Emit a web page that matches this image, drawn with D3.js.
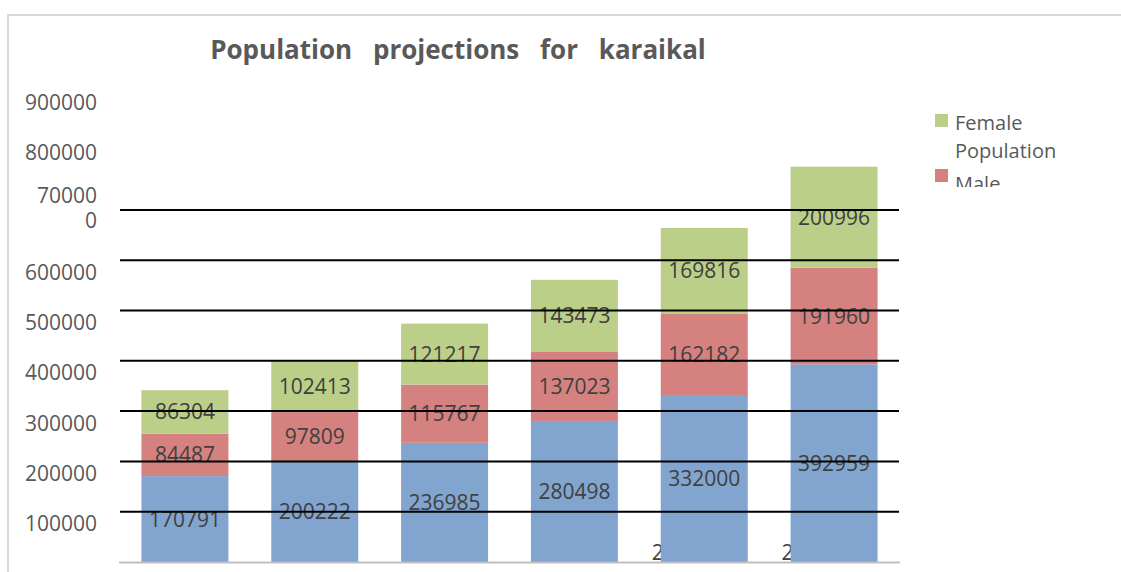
<!DOCTYPE html>
<html>
<head>
<meta charset="utf-8">
<script src="https://cdnjs.cloudflare.com/ajax/libs/d3/7.8.5/d3.min.js"></script>
<style>
  body { margin: 0; background: #fff; }
  text { font-family: "Open Sans", sans-serif; }
</style>
</head>
<body>
<div id="chart"></div>
<script>
var years = ["2001", "2011", "2021", "2031", "2041", "2051"];
var total = [170791, 200222, 236985, 280498, 332000, 392959];
var male = [84487, 97809, 115767, 137023, 162182, 191960];
var female = [86304, 102413, 121217, 143473, 169816, 200996];
var ticks = [100000, 200000, 300000, 400000, 500000, 600000, 700000, 800000, 900000];
var gridTicks = [100000, 200000, 300000, 400000, 500000, 600000, 700000];

var w = 1121,
    h = 572;

var svg = d3.select("#chart")
  .append("svg")
  .attr("width", w)
  .attr("height", h);

// outer frame (only top and left edges show)
svg.append("path")
  .attr("d", "M8,572V15H1121")
  .attr("fill", "none")
  .attr("stroke", "#d9d9d9")
  .attr("stroke-width", 2);

var x = d3.scaleBand()
  .domain(years)
  .range([120, 899])
  .paddingInner(0.33)
  .paddingOuter(0.165);

var y = d3.scaleLinear()
  .domain([0, 900000])
  .range([562, 109.3]);

var series = [
  {name: "Total Population", values: total, color: "#81a5cf"},
  {name: "Male Population", values: male, color: "#d4817f"},
  {name: "Female Population", values: female, color: "#bbcf89"}
];

// stack the segments
var stacked = [];
years.forEach(function(yr, i) {
  var base = 0;
  series.forEach(function(s) {
    stacked.push({year: yr, i: i, y0: base, y1: base + s.values[i], v: s.values[i], color: s.color});
    base += s.values[i];
  });
});

// category labels sit behind the bars; only the last two peek out
svg.selectAll(".cat")
  .data(years.filter(function(d, i) { return i >= 4; }))
  .enter()
  .append("text")
  .attr("class", "cat")
  .attr("x", function(d) { return x(d) - 9; })
  .attr("y", 560)
  .attr("font-size", "21px")
  .attr("fill", "#404040")
  .text(function(d) { return d; });

svg.selectAll(".bar")
  .data(stacked)
  .enter()
  .append("rect")
  .attr("class", "bar")
  .attr("x", function(d) { return x(d.year); })
  .attr("y", function(d) { return y(d.y1); })
  .attr("width", x.bandwidth())
  .attr("height", function(d) { return y(d.y0) - y(d.y1); })
  .attr("fill", function(d) { return d.color; });

// value labels
svg.selectAll(".val")
  .data(stacked)
  .enter()
  .append("text")
  .attr("class", "val")
  .attr("x", function(d) { return x(d.year) + x.bandwidth() / 2; })
  .attr("y", function(d) { return (y(d.y0) + y(d.y1)) / 2; })
  .attr("dy", "0.36em")
  .attr("text-anchor", "middle")
  .attr("font-size", "21px")
  .attr("fill", "#404040")
  .text(function(d) { return d.v; });

// x axis line
svg.append("line")
  .attr("x1", 119).attr("x2", 900)
  .attr("y1", y(0) + 0.5).attr("y2", y(0) + 0.5)
  .attr("stroke", "#bfbfbf")
  .attr("stroke-width", 2);

// gridlines drawn over the bars
svg.selectAll(".grid")
  .data(gridTicks)
  .enter()
  .append("line")
  .attr("class", "grid")
  .attr("x1", 120).attr("x2", 899)
  .attr("y1", function(d) { return y(d); })
  .attr("y2", function(d) { return y(d); })
  .attr("stroke", "#000")
  .attr("stroke-width", 2);

// y labels (offset from their gridlines as in the original)
var yl = svg.selectAll(".ylab")
  .data(ticks)
  .enter()
  .append("text")
  .attr("class", "ylab")
  .attr("x", 97)
  .attr("text-anchor", "end")
  .attr("font-size", "21px")
  .attr("fill", "#595959");

yl.filter(function(d) { return d !== 700000; })
  .attr("y", function(d) {
    if (d >= 800000) return y(d) - 7;
    return y(d) + 12;
  })
  .attr("dy", "0.36em")
  .text(function(d) { return d; });

// 700000 wraps onto two lines in the original
var wrapped = yl.filter(function(d) { return d === 700000; });
wrapped.append("tspan").attr("x", 97).attr("y", y(700000) - 14.5).attr("dy", "0.36em").text("70000");
wrapped.append("tspan").attr("x", 97).attr("y", y(700000) + 10.5).attr("dy", "0.36em").text("0");

// title
svg.append("text")
  .attr("x", 458)
  .attr("y", 59)
  .attr("text-anchor", "middle")
  .attr("font-size", "26px")
  .attr("font-weight", "bold")
  .attr("fill", "#595959")
  .attr("word-spacing", "14px")
  .text("Population projections for karaikal");

// legend, clipped like the original box
svg.append("clipPath")
  .attr("id", "legclip")
  .append("rect")
  .attr("x", 920).attr("y", 100)
  .attr("width", 200).attr("height", 87);

var legend = svg.append("g").attr("clip-path", "url(#legclip)");
var legItems = [series[2], series[1], series[0]];

var lg = legend.selectAll(".leg")
  .data(legItems)
  .enter()
  .append("g")
  .attr("class", "leg")
  .attr("transform", function(d, i) { return "translate(935," + (114 + i * 55) + ")"; });

lg.append("rect")
  .attr("width", 13).attr("height", 13)
  .attr("fill", function(d) { return d.color; });

lg.each(function(d, i) {
  var words = d.name.split(" ");
  var t = d3.select(this).append("text")
    .attr("font-size", "20px")
    .attr("fill", "#595959");
  words.forEach(function(wd, k) {
    t.append("tspan").attr("x", 20).attr("y", (i === 0 ? 16 : 22) + k * 28).text(wd);
  });
});
</script>
</body>
</html>
